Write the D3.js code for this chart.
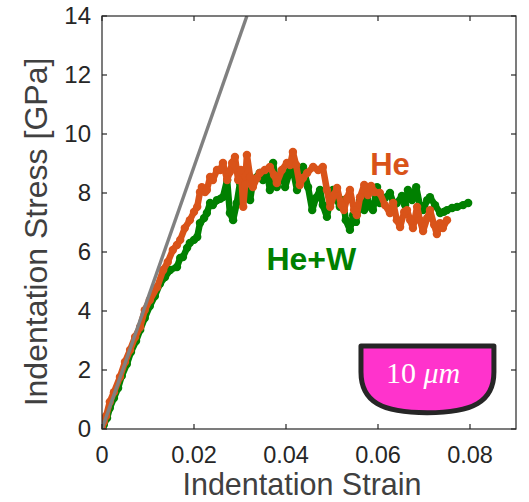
<!DOCTYPE html>
<html><head><meta charset="utf-8">
<script src="https://cdn.jsdelivr.net/npm/d3@7"></script>
<style>body{margin:0;background:#fff}svg{display:block}</style>
</head><body><svg id="c" width="529" height="502"></svg>
<script>
const xTicks = [0, 0.02, 0.04, 0.06, 0.08];
const xTickLabels = ["0", "0.02", "0.04", "0.06", "0.08"];
const yTicks = [0, 2, 4, 6, 8, 10, 12, 14];
const yTickLabels = ["0", "2", "4", "6", "8", "10", "12", "14"];

const heStrain = [0,0.0004,0.0009,0.0017,0.0026,0.0039,0.0050,0.0061,0.0072,0.0083,0.0093,0.0104,0.0120,0.0133,0.0143,0.0154,0.0163,0.0170,0.0180,0.0191,0.0200,0.0207,0.0213,0.0217,0.0224,0.0228,0.0235,0.0241,0.0250,0.0257,0.0263,0.0272,0.0278,0.0283,0.0289,0.0296,0.0302,0.0307,0.0311,0.0315,0.0322,0.0328,0.0337,0.0343,0.0354,0.0365,0.0374,0.0380,0.0391,0.0402,0.0409,0.0415,0.0422,0.0430,0.0437,0.0446,0.0459,0.0470,
  0.0480,0.0489,0.0496,0.0504,0.0511,0.0520,0.0526,0.0533,0.0539,0.0548,0.0554,0.0561,0.0570,0.0578,0.0585,0.0593,0.0604,0.0615,0.0626,0.0633,0.0641,0.0648,0.0657,0.0663,0.0670,0.0676,0.0685,0.0691,0.0698,0.0707,0.0713,0.0722,0.0728,0.0735,0.0741,0.0750];
const heStress = [0,0.24,0.44,0.92,1.25,1.76,2.27,2.68,3.12,3.46,4.03,4.37,4.81,5.39,5.66,6.07,6.24,6.41,6.81,7.08,7.36,7.53,8.03,8.20,8.03,8.10,8.54,8.44,8.78,8.78,9.02,8.44,8.71,9.02,9.22,8.44,8.78,7.53,8.27,9.29,8.54,8.20,8.51,8.68,8.78,8.88,8.61,8.34,8.78,9.02,8.95,9.39,8.95,8.27,8.51,8.68,8.88,8.78,
  8.88,8.10,7.53,7.93,8.17,7.59,7.42,7.83,8.10,7.42,7.25,7.86,8.27,7.93,8.24,8.03,8.00,7.59,7.32,7.66,7.08,6.85,7.36,7.42,7.08,6.81,7.53,7.08,6.71,7.15,7.42,6.92,6.61,6.98,6.81,7.08];

const hewStrain = [0,0.0004,0.0011,0.0017,0.0026,0.0035,0.0043,0.0054,0.0063,0.0074,0.0083,0.0093,0.0104,0.0115,0.0126,0.0137,0.0148,0.0163,0.0170,0.0176,0.0185,0.0191,0.0200,0.0207,0.0213,0.0222,0.0228,0.0235,0.0241,0.0250,0.0257,0.0263,0.0272,0.0278,0.0285,0.0293,0.0300,0.0307,0.0315,0.0322,0.0328,0.0337,0.0343,0.0350,0.0359,0.0365,0.0372,0.0380,0.0387,0.0393,0.0398,0.0409,0.0415,0.0424,0.0430,
  0.0437,0.0448,0.0457,0.0465,0.0474,0.0480,0.0489,0.0496,0.0502,0.0511,0.0517,0.0524,0.0530,0.0539,0.0546,0.0552,0.0561,0.0570,0.0576,0.0583,0.0589,0.0598,0.0604,0.0615,0.0626,0.0635,0.0641,0.0652,0.0659,0.0665,0.0674,0.0683,0.0691,0.0698,0.0707,0.0713,0.0724,0.0735,0.0743,0.0750,0.0761,0.0772,0.0785,0.0796];
const hewStress = [0,0.14,0.37,0.71,1.05,1.39,1.80,2.20,2.61,2.98,3.36,3.76,4.17,4.51,4.92,5.15,5.39,5.49,5.80,5.83,6.14,6.31,6.41,6.51,6.98,7.15,7.32,7.66,7.59,7.76,7.80,7.86,8.44,7.32,7.08,7.66,8.34,8.54,7.93,7.76,8.37,8.54,8.68,8.44,8.68,8.10,9.02,8.20,8.54,8.68,8.20,8.78,8.78,8.10,8.61,
  8.88,8.20,7.42,7.83,8.10,7.59,7.19,7.76,8.10,7.76,7.53,7.76,7.08,6.75,7.25,7.02,7.76,7.42,7.83,7.53,7.42,8.20,7.66,7.83,8.00,7.59,7.66,7.90,7.59,8.10,7.76,8.20,7.59,7.42,7.76,7.86,7.59,7.32,7.36,7.42,7.49,7.53,7.59,7.66];

const fitStrain = [0, 0.0315];
const fitStress = [0, 14];

const svg = d3.select("#c");
const L = 102, R = 516, T = 16, B = 429;
const x = d3.scaleLinear().domain([0, 0.09]).range([L, R]);
const y = d3.scaleLinear().domain([0, 14]).range([B, T]);
const axisCol = "#262626";
const font = "'Liberation Sans', Arial, Helvetica, sans-serif";

svg.append("clipPath").attr("id","clip").append("rect")
  .attr("x", L).attr("y", T).attr("width", R-L).attr("height", B-T);

const gPlot = svg.append("g").attr("clip-path","url(#clip)");
const line = d3.line().x(d=>x(d[0])).y(d=>y(d[1]));

function drawSeries(xs, ys, col){
  const n = Math.min(xs.length, ys.length);
  const pts = xs.slice(0, n).map((v,i)=>[v, ys[i]]);
  gPlot.append("path").datum(pts).attr("d", line)
    .attr("fill","none").attr("stroke", col).attr("stroke-width", 6.5)
    .attr("stroke-linejoin","round").attr("stroke-linecap","round");
  gPlot.selectAll(null).data(pts).enter().append("circle")
    .attr("cx", d=>x(d[0])).attr("cy", d=>y(d[1])).attr("r", 4.2).attr("fill", col);
}
drawSeries(hewStrain, hewStress, "#008000");
drawSeries(heStrain, heStress, "#D95319");

gPlot.append("path").datum(fitStrain.map((v,i)=>[v, fitStress[i]])).attr("d", line)
  .attr("fill","none").attr("stroke","#808080").attr("stroke-width", 3.4);

// axes box
const gAx = svg.append("g");
gAx.append("rect").attr("x", L).attr("y", T).attr("width", R-L).attr("height", B-T)
  .attr("fill","none").attr("stroke", axisCol).attr("stroke-width", 1.2);
const tl = 5;
xTicks.forEach((t,i)=>{
  gAx.append("line").attr("x1", x(t)).attr("x2", x(t)).attr("y1", B).attr("y2", B-tl).attr("stroke", axisCol).attr("stroke-width",1.2);
  gAx.append("line").attr("x1", x(t)).attr("x2", x(t)).attr("y1", T).attr("y2", T+tl).attr("stroke", axisCol).attr("stroke-width",1.2);
  gAx.append("text").attr("x", x(t)).attr("y", 463).attr("text-anchor","middle")
    .attr("font-family", font).attr("font-size", 23.5).attr("fill", axisCol).text(xTickLabels[i]);
});
yTicks.forEach((t,i)=>{
  gAx.append("line").attr("x1", L).attr("x2", L+tl).attr("y1", y(t)).attr("y2", y(t)).attr("stroke", axisCol).attr("stroke-width",1.2);
  gAx.append("line").attr("x1", R).attr("x2", R-tl).attr("y1", y(t)).attr("y2", y(t)).attr("stroke", axisCol).attr("stroke-width",1.2);
  gAx.append("text").attr("x", 91).attr("y", y(t)).attr("dy","0.35em").attr("text-anchor","end")
    .attr("font-family", font).attr("font-size", 24).attr("fill", axisCol).text(yTickLabels[i]);
});

svg.append("text").attr("x", 302).attr("y", 495).attr("text-anchor","middle")
  .attr("font-family", font).attr("font-size", 30.5).attr("fill","#404040").text("Indentation Strain");
svg.append("text").attr("transform","translate(47,232) rotate(-90)").attr("text-anchor","middle")
  .attr("font-family", font).attr("font-size", 32).attr("fill","#404040").text("Indentation Stress [GPa]");

// series labels
svg.append("text").attr("x", x(0.0626)).attr("y", y(8.6)).attr("text-anchor","middle")
  .attr("font-family", font).attr("font-size", 31).attr("font-weight","bold").attr("fill","#D95319").text("He");
svg.append("text").attr("x", x(0.0455)).attr("y", y(5.38)).attr("text-anchor","middle")
  .attr("font-family", font).attr("font-size", 32).attr("font-weight","bold").attr("fill","#008000").text("He+W");

// scale-bar badge
const bx0 = x(0.0563), bx1 = x(0.0852), bxc = x(0.0707);
const byTop = y(2.81), bySide = y(1.93), byBot = y(0.55);
const p = d3.path();
p.moveTo(bx0, byTop); p.lineTo(bx1, byTop); p.lineTo(bx1, bySide);
p.bezierCurveTo(bx1, bySide+30, bxc+45, byBot, bxc, byBot);
p.bezierCurveTo(bxc-45, byBot, bx0, bySide+30, bx0, bySide);
p.closePath();
svg.append("path").attr("d", p.toString()).attr("fill","#FF33CC")
  .attr("stroke","#262626").attr("stroke-width",5).attr("stroke-linejoin","round");
const tx = svg.append("text").attr("x", x(0.0698)).attr("y", y(1.55)).attr("text-anchor","middle")
  .attr("font-family","'Liberation Serif', 'DejaVu Serif', serif").attr("font-size", 30).attr("fill","#fff");
tx.append("tspan").text("10 ");
tx.append("tspan").attr("font-style","italic").text("μm");
</script></body></html>
